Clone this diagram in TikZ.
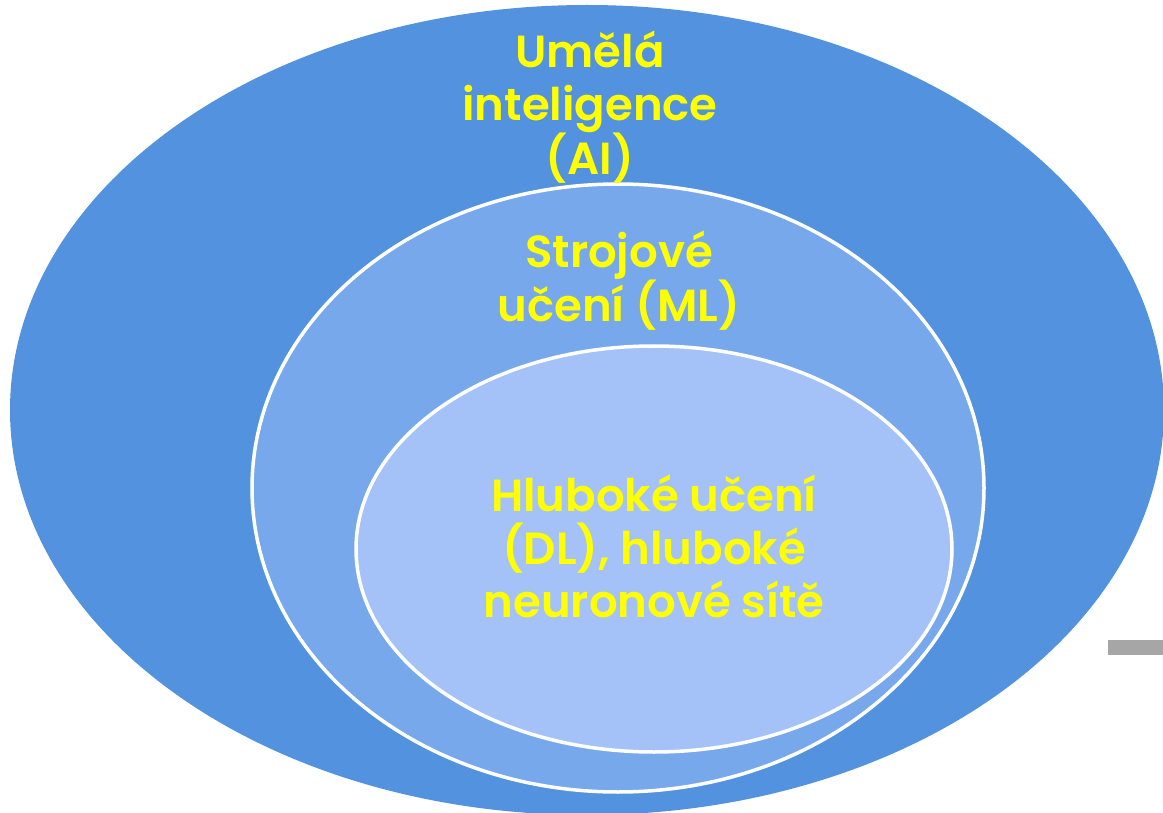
\documentclass[tikz,border=0pt]{standalone}
\usepackage{fontspec}
\setmainfont{Poppins}[BoldFont={Poppins SemiBold}]
\definecolor{outerblue}{RGB}{82,146,222}
\definecolor{midblue}{RGB}{120,168,236}
\definecolor{innerblue}{RGB}{164,194,247}
\definecolor{txtyellow}{RGB}{255,255,0}
\definecolor{bargrey}{RGB}{166,166,166}
\begin{document}
\begin{tikzpicture}[x=1pt,y=-1pt,
  lbl/.style={text=txtyellow, align=center, anchor=base, inner sep=0pt,
    font=\fontsize{45}{53}\selectfont\bfseries},
  ring/.style={draw=white, line width=3.5pt}]
\useasboundingbox (0,0) rectangle (1163,813);
\fill[outerblue] (587,410) ellipse [x radius=577, y radius=405];
\fill[bargrey] (1108,640) rectangle (1163,655);
\filldraw[ring, fill=midblue] (618,488) ellipse [x radius=366, y radius=304];
\filldraw[ring, fill=innerblue] (654,549) ellipse [x radius=298, y radius=203];
\node[lbl] (ai) at (590,175) {Umělá\\inteligence\\(AI)};
\node[lbl] (ml) at (619,322) {Strojové\\učení (ML)};
\node[lbl] (dl) at (654,617) {Hluboké učení\\(DL), hluboké\\neuronové sítě};
\end{tikzpicture}
\end{document}
